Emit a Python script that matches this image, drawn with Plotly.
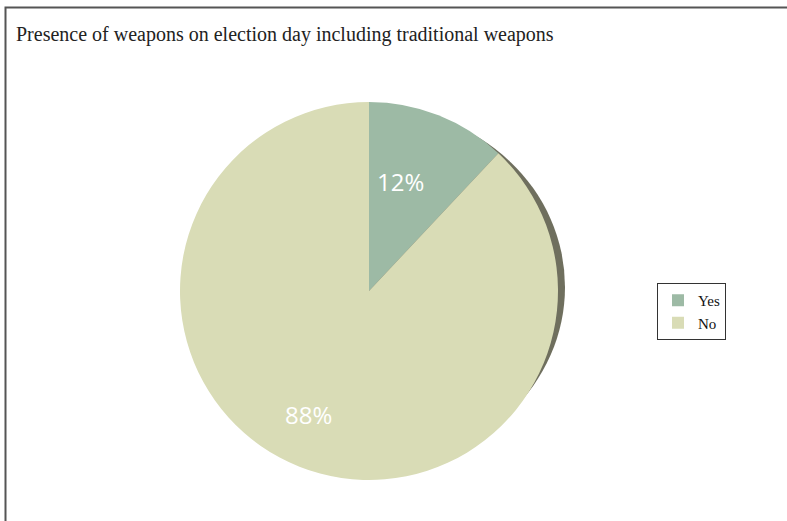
import plotly.graph_objects as go

# Survey answers and their shares (%)
answers = ["Yes", "No"]
shares = [12, 88]
slice_colors = ["#9dbaa5", "#d9dcb6"]

W, H = 787, 521
CX, CY, R = 369, 291, 189   # pie centre and radius in pixels

fig = go.Figure()

fig.add_trace(go.Pie(
    labels=answers,
    values=shares,
    sort=False,
    direction="clockwise",
    rotation=0,
    marker=dict(colors=slice_colors, line=dict(width=0)),
    textinfo="none",
    domain=dict(x=[(CX - R) / W, (CX + R) / W],
                y=[1 - (CY + R) / H, 1 - (CY - R) / H]),
    hoverinfo="label+percent",
))

# percentage labels written from the share values
label_pos = [(400, 181), (308, 414)]
annotations = [
    dict(text=f"{v}%", xref="paper", yref="paper",
         x=px / W, y=1 - py / H, xanchor="center", yanchor="middle",
         showarrow=False,
         font=dict(family="Open Sans", size=24, color="white"))
    for v, (px, py) in zip(shares, label_pos)
]

annotations.append(dict(
    text="Presence of weapons on election day including traditional weapons",
    xref="paper", yref="paper", x=14 / W, y=1 - 35 / H,
    xanchor="left", yanchor="middle", showarrow=False,
    font=dict(family="Liberation Serif", size=20, color="#222222"),
))

# dark rim on the right-hand side giving the disc some depth
rim = dict(type="circle", xref="paper", yref="paper", layer="below",
           x0=(CX + 7 - R) / W, x1=(CX + 7 + R) / W,
           y0=1 - (287 + 178) / H, y1=1 - (287 - 178) / H,
           fillcolor="#6f6f5e", line=dict(width=0))

# frame along the top and left edges
frame = dict(type="path", xref="paper", yref="paper",
             path=f"M {800 / W},{1 - 7.5 / H} L {5.5 / W},{1 - 7.5 / H} L {5.5 / W},-0.05",
             line=dict(color="#555555", width=2))

fig.update_layout(
    width=W, height=H,
    margin=dict(l=0, r=0, t=0, b=0),
    paper_bgcolor="white",
    plot_bgcolor="white",
    shapes=[rim, frame],
    annotations=annotations,
    legend=dict(
        x=657 / W, y=1 - 283 / H, xanchor="left", yanchor="top",
        bordercolor="#333333", borderwidth=1, bgcolor="white",
        font=dict(family="Liberation Serif", size=15, color="#111111"),
        itemwidth=30, tracegroupgap=0,
    ),
    showlegend=True,
)

fig.write_html("out.html")
